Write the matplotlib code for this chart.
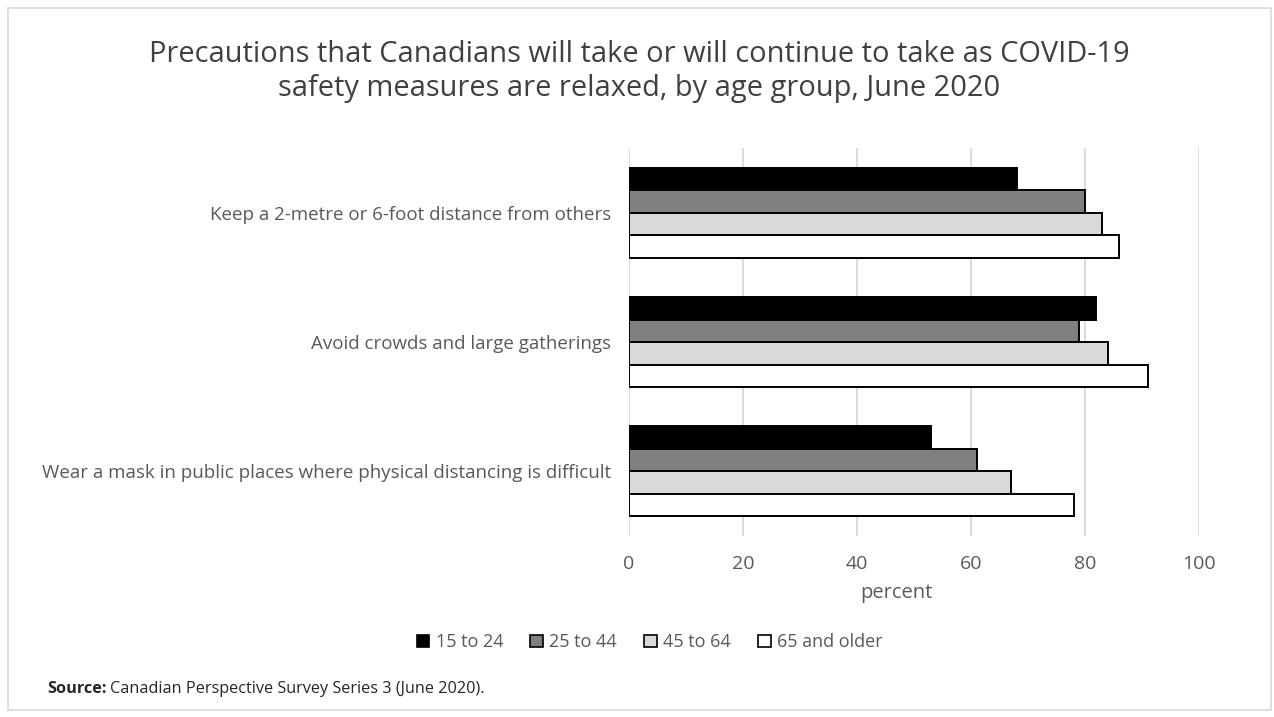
import matplotlib
matplotlib.use("Agg")
import numpy as np
import matplotlib.pyplot as plt
from matplotlib.patches import Patch, Rectangle

plt.rcParams['font.family'] = ['Open Sans', 'DejaVu Sans']

categories = [
    'Keep a 2-metre or 6-foot distance from others',
    'Avoid crowds and large gatherings',
    'Wear a mask in public places where physical distancing is difficult',
]
age_groups = ['15 to 24', '25 to 44', '45 to 64', '65 and older']
age_15_24 = [68, 82, 53]
age_25_44 = [80, 79, 61]
age_45_64 = [83, 84, 67]
age_65_up = [86, 91, 78]
x_ticks = [0, 20, 40, 60, 80, 100]

series = [age_15_24, age_25_44, age_45_64, age_65_up]
colors = ['#000000', '#808080', '#d9d9d9', '#ffffff']
text_grey = '#595959'

fig = plt.figure(figsize=(12.74, 7.17), dpi=100)
ax = fig.add_axes([0.4937, 0.2524, 0.4474, 0.5412])

y = np.arange(len(categories))
h = 0.174
for i, (vals, c) in enumerate(zip(series, colors)):
    offs = (i - 1.5) * h
    ax.barh(y + offs, vals, height=h, color=c, edgecolor='#000000',
            linewidth=1.4, label=age_groups[i], zorder=3)

ax.set_ylim(2.5, -0.5)
ax.set_xlim(0, 100)
ax.set_xticks(x_ticks)
ax.set_yticks(y)
ax.set_yticklabels(categories, fontsize=13.5, color=text_grey)
ax.tick_params(axis='x', labelsize=14, labelcolor=text_grey, length=0, pad=14)
ax.tick_params(axis='y', length=0, pad=13)
ax.grid(axis='x', color='#d9d9d9', linewidth=1.3, zorder=0)
for s in ax.spines.values():
    s.set_visible(False)
ax.set_xlabel('percent', fontsize=14.5, color=text_grey)
ax.xaxis.set_label_coords(0.47, -0.12)

fig.text(0.502, 0.9, 'Precautions that Canadians will take or will continue to take as COVID-19\n'
         'safety measures are relaxed, by age group, June 2020',
         ha='center', va='center', fontsize=20.9, color='#404040', linespacing=1.22)

handles = [Patch(facecolor=c, edgecolor='#000000', linewidth=1.2) for c in colors]
fig.legend(handles, age_groups, loc='center', bbox_to_anchor=(0.51, 0.104), ncol=4,
           frameon=False, fontsize=13, handlelength=0.7, handleheight=0.7,
           handletextpad=0.35, columnspacing=1.5, labelcolor=text_grey)

# source line: bold lead-in followed by regular text
fig.canvas.draw()
r = fig.canvas.get_renderer()
t1 = fig.text(0.037, 0.039, 'Source:', fontsize=11.7, fontweight='bold', color='#262626',
              ha='left', va='center')
bb = t1.get_window_extent(renderer=r)
fig.text((bb.x1 + 3) / fig.bbox.width, 0.039, 'Canadian Perspective Survey Series 3 (June 2020).',
         fontsize=11.7, color='#262626', ha='left', va='center')

fig.patches.append(Rectangle((0.006, 0.01), 0.992, 0.979, transform=fig.transFigure,
                             fill=False, edgecolor='#d9d9d9', linewidth=1.2))

fig.savefig('out.png', dpi=100)
